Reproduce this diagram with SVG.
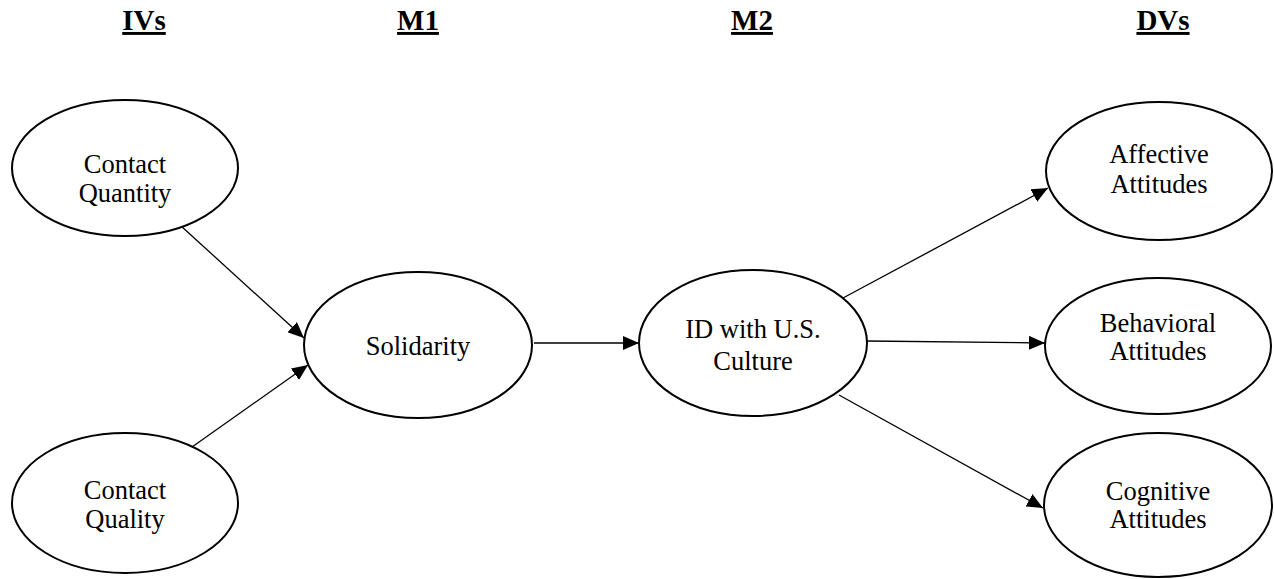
<svg xmlns="http://www.w3.org/2000/svg" width="1274" height="579" viewBox="0 0 1274 579">
<style>
.n ellipse{fill:#fff;stroke:#000;stroke-width:2}
.n text{font-family:"Liberation Serif","Times New Roman",serif;font-size:26.5px;fill:#000;text-anchor:middle}
.h{font-family:"Liberation Serif","Times New Roman",serif;font-size:29px;font-weight:bold;text-decoration:underline;text-anchor:middle;fill:#000}
.c line{stroke:#000;stroke-width:1.3;marker-end:url(#ah)}
</style>
<defs>
<marker id="ah" markerUnits="userSpaceOnUse" markerWidth="16" markerHeight="14" refX="16" refY="7" orient="auto">
<path d="M0,0 L16,7 L0,14 Z" fill="#000"/>
</marker>
</defs>
<g id="headers">
<text class="h" x="144" y="30">IVs</text>
<text class="h" x="418" y="30">M1</text>
<text class="h" x="752" y="30">M2</text>
<text class="h" x="1163" y="30">DVs</text>
</g>
<g class="c" id="connectors">
<line x1="181" y1="226" x2="304" y2="338"/>
<line x1="192" y1="447" x2="308" y2="365"/>
<line x1="534" y1="343" x2="639" y2="343"/>
<line x1="843" y1="298" x2="1048" y2="188"/>
<line x1="867" y1="341" x2="1045" y2="343"/>
<line x1="839" y1="395" x2="1043" y2="508"/>
</g>
<g class="n" id="contact-quantity">
<ellipse cx="125" cy="168" rx="113" ry="68"/>
<text x="125" y="173">Contact</text>
<text x="125" y="202">Quantity</text>
</g>
<g class="n" id="contact-quality">
<ellipse cx="125" cy="503" rx="113" ry="70"/>
<text x="125" y="499">Contact</text>
<text x="125" y="528">Quality</text>
</g>
<g class="n" id="solidarity">
<ellipse cx="418" cy="345" rx="114" ry="73"/>
<text x="418" y="355">Solidarity</text>
</g>
<g class="n" id="id-us-culture">
<ellipse cx="753" cy="343" rx="114" ry="73"/>
<text x="753" y="338">ID with U.S.</text>
<text x="753" y="370">Culture</text>
</g>
<g class="n" id="affective">
<ellipse cx="1159" cy="171" rx="113" ry="69"/>
<text x="1159" y="163">Affective</text>
<text x="1159" y="193">Attitudes</text>
</g>
<g class="n" id="behavioral">
<ellipse cx="1158" cy="346" rx="113" ry="68"/>
<text x="1158" y="332">Behavioral</text>
<text x="1158" y="360">Attitudes</text>
</g>
<g class="n" id="cognitive">
<ellipse cx="1158" cy="505" rx="114" ry="72"/>
<text x="1158" y="500">Cognitive</text>
<text x="1158" y="528">Attitudes</text>
</g>
</svg>
